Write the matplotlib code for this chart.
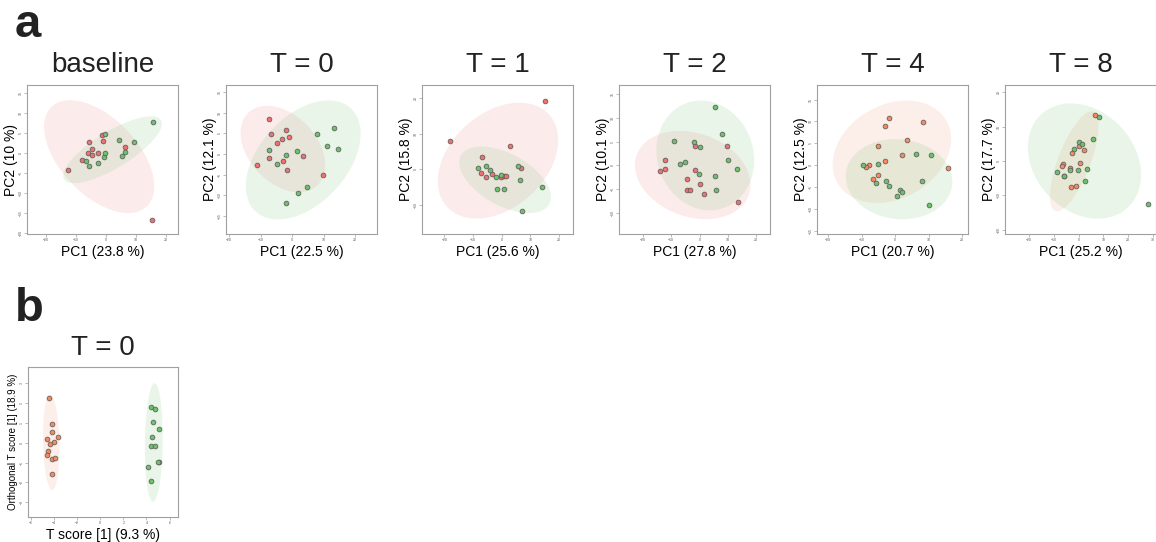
import matplotlib
matplotlib.use('Agg')
import matplotlib.pyplot as plt
from matplotlib.patches import Ellipse
import numpy as np

plt.rcParams['font.family'] = ['Liberation Sans', 'DejaVu Sans']

# ---- data (scores) ----
titles = ['baseline', 'T = 0', 'T = 1', 'T = 2', 'T = 4', 'T = 8']
pc1_labels = ['PC1 (23.8 %)', 'PC1 (22.5 %)', 'PC1 (25.6 %)', 'PC1 (27.8 %)', 'PC1 (20.7 %)', 'PC1 (25.2 %)']
pc2_labels = ['PC2 (10 %)', 'PC2 (12.1 %)', 'PC2 (15.8 %)', 'PC2 (10.1 %)', 'PC2 (12.5 %)', 'PC2 (17.7 %)']

base_red_x = [-12.4, -8.0, -5.6, -5.8, -4.7, -4.5, -2.4, -1.3, -0.9, 6.5, 15.4]
base_red_y = [-4.2, -1.8, 2.8, 0.2, -0.5, 1.2, 0.2, 4.7, 3.2, 1.6, -16.6]
base_green_x = [-6.6, -5.7, -2.7, -0.7, -0.3, -0.2, 4.3, 5.3, 6.6, 9.5, 15.7]
base_green_y = [-2.0, -3.3, -2.4, -1.0, 0.0, 4.8, 3.3, -0.6, 0.4, 2.8, 7.9]

t0_red_x = [-7.4, -6.7, -2.1, -1.0, -3.2, -4.8, -7.4, -11.2, -2.9, -1.6, 3.3, 9.7]
t0_red_y = [8.5, 4.8, 5.7, 4.0, 3.7, 2.7, -1.1, -2.8, -1.6, -3.8, -0.6, -5.2]
t0_green_x = [-7.4, -4.9, -2.1, 1.6, 7.8, 11.0, 13.4, 14.5, 4.8, 1.9, -2.1]
t0_green_y = [1.0, -2.4, -0.2, 0.6, 4.8, 1.8, 6.4, 1.3, -7.9, -9.4, -12.0]

t1_red_x = [15.2, -18.2, 2.8, -6.7, -7.1, -5.5, -3.3, -0.1, 0.7, 1.4, 6.8]
t1_red_y = [19.4, 7.9, 6.5, 3.5, -0.9, -2.2, -1.4, -2.2, -1.9, -1.8, 0.4]
t1_green_x = [-8.2, -5.3, -3.9, -1.9, -0.2, -1.6, 0.9, 5.6, 6.5, 14.2, 7.2]
t1_green_y = [0.3, 1.1, -0.2, -2.2, -1.5, -5.4, -5.4, 1.0, -3.0, -5.0, -11.8]

t2_red_x = [-1.5, 9.6, -12.4, -12.3, -14.0, -1.7, -4.6, 0.1, -4.3, -3.3, 1.7, 13.6]
t2_red_y = [4.1, 4.0, 1.2, -0.8, -1.1, -0.9, -2.9, -3.9, -5.1, -5.1, -6.1, -7.7]
t2_green_x = [5.4, 8.0, -9.2, -2.0, 0.0, 9.9, -5.2, -7.0, 13.4, -0.2, 5.3, 5.9]
t2_green_y = [12.4, 6.7, 5.1, 4.9, 3.9, 1.1, 0.8, 0.3, -0.7, -1.9, -2.2, -5.1]

t4_red_x = [-1.9, -2.9, 8.2, 3.4, -5.0, 2.0, -2.9, -7.8, -8.8, -5.1, -6.7, 15.7]
t4_red_y = [10.8, 8.9, 9.8, 5.7, 4.5, 2.4, 1.1, 0.2, -0.3, -2.2, -3.0, -0.5]
t4_green_x = [-9.6, -5.0, 6.2, 10.6, -2.8, -5.6, -1.9, 1.3, 2.1, 0.5, 7.9, 10.0]
t4_green_y = [0.2, 0.3, 2.7, 2.4, -3.5, -4.0, -4.7, -5.5, -6.1, -6.9, -3.5, -8.9]

t8_red_x = [6.6, 0.1, 2.3, -2.8, 0.7, -6.2, -6.6, -5.9, -3.4, -3.2, -1.2]
t8_red_y = [13.4, 4.2, 3.3, 2.4, -0.6, -1.0, -1.6, -4.3, -2.0, -7.7, -7.4]
t8_green_x = [8.2, 5.7, 0.1, 1.2, -2.0, -8.9, -3.6, -0.3, 3.2, 2.4, -5.8, 28.0]
t8_green_y = [12.9, 6.3, 5.5, 5.0, 3.6, -3.1, -2.8, -2.8, -2.4, -6.0, -4.3, -12.6]

opls_red_x = [-4.46, -4.17, -4.17, -4.6, -4.0, -3.65, -4.35, -4.5, -4.58, -4.12, -3.88, -4.2]
opls_red_y = [2.25, 0.96, 0.54, 0.2, 0.05, 0.29, -0.05, -0.4, -0.6, -0.8, -0.77, -1.56]
opls_green_x = [4.43, 4.75, 4.58, 5.04, 4.46, 4.35, 4.75, 5.04, 5.02, 4.09, 4.43]
opls_green_y = [1.82, 1.68, 1.06, 0.67, 0.3, -0.18, -0.17, -0.97, -0.99, -1.23, -1.93]

red_sets = [(base_red_x, base_red_y), (t0_red_x, t0_red_y), (t1_red_x, t1_red_y),
            (t2_red_x, t2_red_y), (t4_red_x, t4_red_y), (t8_red_x, t8_red_y)]
green_sets = [(base_green_x, base_green_y), (t0_green_x, t0_green_y), (t1_green_x, t1_green_y),
              (t2_green_x, t2_green_y), (t4_green_x, t4_green_y), (t8_green_x, t8_green_y)]

x_lims = [(-26.2, 24.1), (-21.0, 26.9), (-27.8, 24.9), (-28.5, 24.9), (-23.3, 21.7), (-29.8, 31.3)]
y_lims = [(-20.2, 17.1), (-19.4, 16.7), (-18.2, 23.8), (-14.5, 17.0), (-15.6, 18.3), (-21.3, 22.1)]
x_ticks = [[-20, -10, 0, 10, 20]] * 5 + [[-20, -10, 0, 10, 20, 30]]
y_ticks = [[15, 10, 5, 0, -5, -10, -15, -20], [15, 10, 5, 0, -5, -10, -15], [20, 10, 0, -10],
           [15, 10, 5, 0, -5, -10], [15, 10, 5, 0, -5, -10, -15], [20, 10, 0, -10, -20]]
# panels from T = 4 on use an orange group colour
red_colors = ['#EB7272'] * 4 + ['#F08A62'] * 2

GREEN = '#6DBE6D'
ORANGE = '#F08A62'


def add_ellipse(ax, x, y, color):
    # 95 % normal data ellipse
    pts = np.column_stack([x, y])
    mu = pts.mean(axis=0)
    cov = np.cov(pts, rowvar=False)
    vals, vecs = np.linalg.eigh(cov)
    r = np.sqrt(5.991)
    angle = np.degrees(np.arctan2(vecs[1, 1], vecs[0, 1]))
    e = Ellipse(mu, 2*r*np.sqrt(vals[1]), 2*r*np.sqrt(vals[0]), angle=angle,
                facecolor=color, alpha=0.14, edgecolor='none', zorder=1)
    ax.add_patch(e)


def style_axes(ax):
    for s in ax.spines.values():
        s.set_color('#a0a0a0')
        s.set_linewidth(0.8)
    ax.tick_params(length=2, width=0.5, color='#a0a0a0', labelsize=2.5, labelcolor='#555555', pad=1.0)
    for lab in ax.get_yticklabels():
        lab.set_rotation(90)
        lab.set_va('center')


def score_panel(ax, red, green, rcol, title, xlabel, ylabel, xlim, ylim, xt, yt,
                ylab_size=10, tpad=9.5, ylpad=0.5):
    add_ellipse(ax, red[0], red[1], rcol)
    add_ellipse(ax, green[0], green[1], GREEN)
    ax.scatter(red[0], red[1], s=12, color=rcol, edgecolor='#555555', linewidth=0.5, zorder=3)
    ax.scatter(green[0], green[1], s=12, color=GREEN, edgecolor='#555555', linewidth=0.5, zorder=3)
    ax.set_xlim(xlim)
    ax.set_ylim(ylim)
    ax.set_xticks(xt)
    ax.set_yticks(yt)
    ax.set_title(title, fontsize=20, pad=tpad, color='#222222')
    ax.set_xlabel(xlabel, fontsize=10, labelpad=2)
    ax.set_ylabel(ylabel, fontsize=ylab_size, labelpad=ylpad)
    style_axes(ax)


W, H = 1156, 542
fig = plt.figure(figsize=(W/100, H/100), dpi=100)

lefts = [27, 226, 422, 619, 817, 1005]
for i in range(6):
    ax = fig.add_axes([lefts[i]/W, 1-234/H, 151/W, 149/H])
    score_panel(ax, red_sets[i], green_sets[i], red_colors[i], titles[i], pc1_labels[i], pc2_labels[i],
                x_lims[i], y_lims[i], x_ticks[i], y_ticks[i])

axb = fig.add_axes([28/W, 1-517/H, 150/W, 150/H])
score_panel(axb, (opls_red_x, opls_red_y), (opls_green_x, opls_green_y), ORANGE, 'T = 0',
            'T score [1] (9.3 %)', 'Orthogonal T score [1] (18.9 %)',
            (-6.23, 6.72), (-3.75, 3.82), [-6, -4, -2, 0, 2, 4, 6], [3, 2, 1, 0, -1, -2, -3],
            ylab_size=7, tpad=8.5, ylpad=1)

fig.text(15/W, 1-37/H, 'a', fontsize=34, fontweight='bold', va='baseline', color='#222222')
fig.text(15/W, 1-321/H, 'b', fontsize=34, fontweight='bold', va='baseline', color='#222222')

fig.savefig('out.png', dpi=100)
